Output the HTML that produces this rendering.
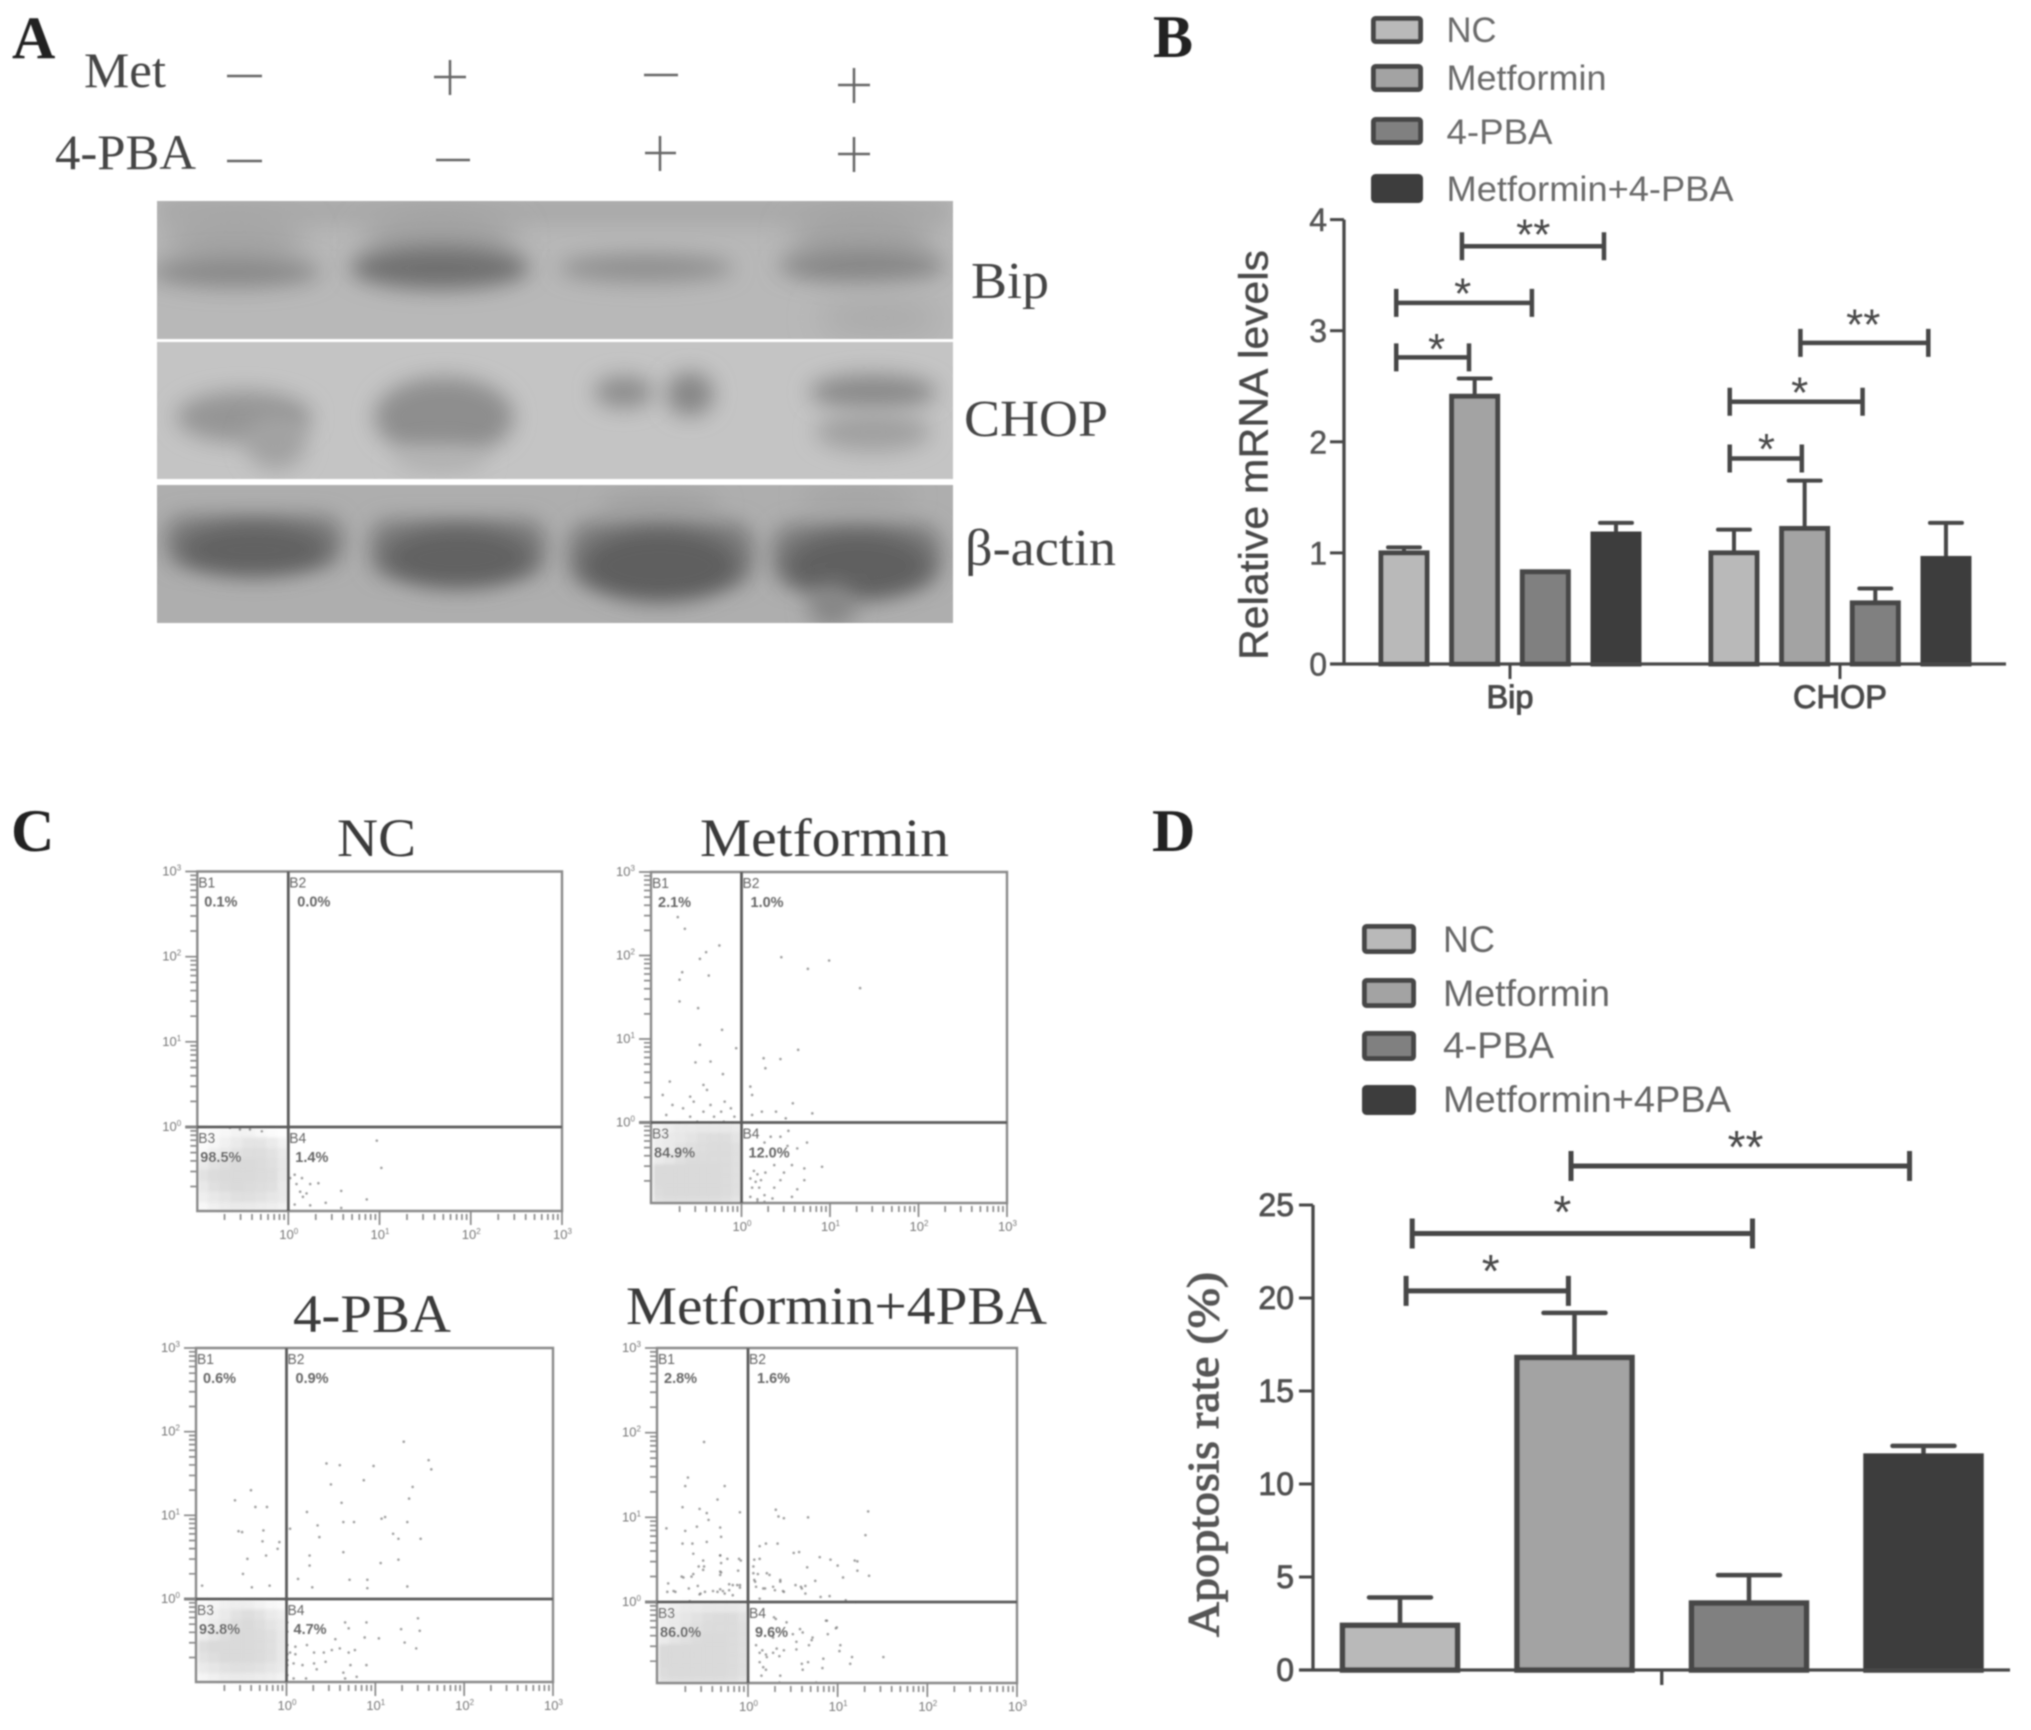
<!DOCTYPE html>
<html lang="en">
<head>
<meta charset="utf-8">
<title>Metformin and 4-PBA figure</title>
<style>
html,body{margin:0;padding:0;background:#fff;}
svg{display:block;}
text{font-family:"Liberation Sans",sans-serif;}
.serif{font-family:"Liberation Serif",serif;}
</style>
</head>
<body>
<svg id="fig" xmlns="http://www.w3.org/2000/svg" width="2031" height="1730" viewBox="0 0 2031 1730">
<defs>
  <filter id="soft" filterUnits="userSpaceOnUse" x="0" y="0" width="2031" height="1730"><feGaussianBlur stdDeviation="0.85"/></filter>
  <filter id="b8" filterUnits="userSpaceOnUse" x="100" y="150" width="900" height="520"><feGaussianBlur stdDeviation="11"/></filter>
  <filter id="b12" filterUnits="userSpaceOnUse" x="100" y="150" width="900" height="520"><feGaussianBlur stdDeviation="15"/></filter>
  <filter id="dense" filterUnits="userSpaceOnUse" x="0" y="800" width="1100" height="930"><feGaussianBlur stdDeviation="1.6"/></filter>
  <clipPath id="c1"><rect x="157" y="201" width="796" height="138"/></clipPath>
  <clipPath id="c2"><rect x="157" y="342" width="796" height="137"/></clipPath>
  <clipPath id="c3"><rect x="157" y="485" width="796" height="138"/></clipPath>
</defs>
<rect width="2031" height="1730" fill="#ffffff"/>
<g id="root" filter="url(#soft)">
  <g>
    <text class="serif" x="12" y="58" font-size="60" font-weight="bold" fill="#222">A</text>
    <text class="serif" x="84" y="87" font-size="50" fill="#444" textLength="82" lengthAdjust="spacingAndGlyphs">Met</text>
    <text class="serif" x="55" y="169" font-size="50" fill="#444" textLength="141" lengthAdjust="spacingAndGlyphs">4-PBA</text>
    <g stroke="#666" stroke-width="2.5" fill="none">
      <path d="M227 76H262"/>
      <path d="M434 77H466M450 60V95"/>
      <path d="M644 75H678"/>
      <path d="M838 85H870M854 68V103"/>
      <path d="M227 161H262"/>
      <path d="M436 160H470"/>
      <path d="M645 153H676M660 136V171"/>
      <path d="M838 154H870M854 137V172"/>
    </g>
    <g clip-path="url(#c1)">
      <rect x="157" y="201" width="796" height="138" fill="#b8b8b8"/>
      <rect x="157" y="195" width="796" height="30" fill="#a8a8a8" filter="url(#b8)"/>
      <ellipse cx="235" cy="240" rx="72" ry="30" fill="#a4a4a4" filter="url(#b12)"/>
      <ellipse cx="440" cy="240" rx="78" ry="30" fill="#a0a0a0" filter="url(#b12)"/>
      <ellipse cx="862" cy="240" rx="72" ry="34" fill="#a2a2a2" filter="url(#b12)"/>
      <ellipse cx="235" cy="272" rx="86" ry="15" fill="#888888" filter="url(#b8)"/>
      <ellipse cx="440" cy="268" rx="90" ry="21" fill="#707070" filter="url(#b8)"/>
      <ellipse cx="646" cy="268" rx="88" ry="14" fill="#8e8e8e" filter="url(#b8)"/>
      <ellipse cx="862" cy="266" rx="84" ry="16" fill="#868686" filter="url(#b8)"/>
      <ellipse cx="880" cy="318" rx="62" ry="22" fill="#acacac" filter="url(#b12)"/>
    </g>
    <g clip-path="url(#c2)">
      <rect x="157" y="342" width="796" height="137" fill="#c4c4c4"/>
      <ellipse cx="244" cy="417" rx="68" ry="26" fill="#959595" filter="url(#b8)"/>
      <ellipse cx="276" cy="442" rx="30" ry="28" fill="#a2a2a2" filter="url(#b8)"/>
      <ellipse cx="444" cy="417" rx="70" ry="40" fill="#8e8e8e" filter="url(#b8)"/>
      <ellipse cx="440" cy="460" rx="46" ry="14" fill="#b4b4b4" filter="url(#b8)"/>
      <ellipse cx="624" cy="392" rx="30" ry="16" fill="#8c8c8c" filter="url(#b8)"/>
      <ellipse cx="690" cy="394" rx="24" ry="22" fill="#868686" filter="url(#b8)"/>
      <ellipse cx="873" cy="392" rx="64" ry="18" fill="#8a8a8a" filter="url(#b8)"/>
      <ellipse cx="873" cy="432" rx="58" ry="20" fill="#a0a0a0" filter="url(#b8)"/>
    </g>
    <g clip-path="url(#c3)">
      <rect x="157" y="485" width="796" height="138" fill="#aeaeae"/>
      <ellipse cx="660" cy="505" rx="62" ry="15" fill="#a2a2a2" filter="url(#b8)"/>
      <ellipse cx="858" cy="498" rx="58" ry="12" fill="#a4a4a4" filter="url(#b8)"/>
      <rect x="165" y="516" width="178" height="50" rx="20" fill="#7c7c7c" filter="url(#b8)"/>
      <rect x="370" y="520" width="176" height="56" rx="20" fill="#7c7c7c" filter="url(#b8)"/>
      <rect x="568" y="522" width="186" height="64" rx="24" fill="#7a7a7a" filter="url(#b8)"/>
      <rect x="772" y="524" width="170" height="62" rx="24" fill="#7c7c7c" filter="url(#b8)"/>
      <ellipse cx="254" cy="550" rx="74" ry="26" fill="#626262" filter="url(#b8)"/>
      <ellipse cx="458" cy="558" rx="74" ry="30" fill="#626262" filter="url(#b8)"/>
      <ellipse cx="660" cy="566" rx="78" ry="36" fill="#5e5e5e" filter="url(#b8)"/>
      <ellipse cx="858" cy="566" rx="72" ry="34" fill="#606060" filter="url(#b8)"/>
      <ellipse cx="832" cy="606" rx="24" ry="22" fill="#868686" filter="url(#b8)"/>
    </g>
    <text class="serif" x="971" y="298" font-size="52" fill="#444" textLength="78" lengthAdjust="spacingAndGlyphs">Bip</text>
    <text class="serif" x="964" y="436" font-size="52" fill="#444" textLength="144" lengthAdjust="spacingAndGlyphs">CHOP</text>
    <text class="serif" x="965" y="565" font-size="52" fill="#444" textLength="151" lengthAdjust="spacingAndGlyphs">β-actin</text>
  </g>
  <text class="serif" x="1153" y="57" font-size="60" font-weight="bold" fill="#222">B</text>
  <text class="serif" x="11" y="851" font-size="60" font-weight="bold" fill="#222">C</text>
  <text class="serif" x="1152" y="851" font-size="60" font-weight="bold" fill="#222">D</text>
  <g id="chartB"></g>
  <g id="chartC"></g>
  <g id="chartD"></g>
</g>
</svg>
<script>
// ---------- Chart B data ----------
const bCategories = ['Bip', 'CHOP'];
const bSeriesNames = ['NC', 'Metformin', '4-PBA', 'Metformin+4-PBA'];
const bValues = [[1.0, 2.41, 0.83, 1.17], [1.0, 1.22, 0.55, 0.95]];
const bErrorTops = [[1.05, 2.57, 0.83, 1.27], [1.21, 1.65, 0.68, 1.27]];
const bTicks = [0, 1, 2, 3, 4];
// start, end, bracket height, label, label position, label height (axis units)
const bBrackets = [[0.82, 2.83, 3.76, '**', 1.83, 3.92], [-0.11, 1.81, 3.25, '*', 0.83, 3.39], [-0.11, 0.92, 2.76, '*', 0.46, 2.89], [5.61, 7.42, 2.89, '**', 6.5, 3.11], [4.61, 6.49, 2.36, '*', 5.6, 2.5], [4.61, 5.63, 1.85, '*', 5.13, 1.99]];
// ---------- Chart D data ----------
const dSeriesNames = ['NC', 'Metformin', '4-PBA', 'Metformin+4PBA'];
const dValues = [2.4, 16.8, 3.6, 11.5];
const dErrorTops = [3.9, 19.2, 5.1, 12.05];
const dTicks = [0, 5, 10, 15, 20, 25];
const dBrackets = [[0.98, 2.92, 27.1, '**', 1.98, 28.44], [0.07, 2.02, 23.47, '*', 0.93, 24.95], [0.035, 0.965, 20.38, '*', 0.52, 21.77]];
// ---------- Chart C data (log10 decades) ----------
const flowDecadeLabels = [0, 1, 2, 3];
const flowMinorMultipliers = [2, 3, 4, 5, 6, 7, 8, 9];
const flowTitles = ['NC', 'Metformin', '4-PBA', 'Metformin+4PBA'];
const flowPercents = [['0.1%', '0.0%', '98.5%', '1.4%'], ['2.1%', '1.0%', '84.9%', '12.0%'], ['0.6%', '0.9%', '93.8%', '4.7%'], ['2.8%', '1.6%', '86.0%', '9.6%']];
const densityNC = [[.05,.15,.2,.3,.3,.2,.1,.05],[.1,.2,.35,.55,.7,.7,.5,.3],[.15,.4,.55,.75,.85,.85,.75,.5],[.5,.75,.85,.95,.95,.9,.8,.6],[.75,.9,.95,.95,.95,.9,.85,.6],[.6,.8,.9,.95,.9,.85,.8,.55],[.4,.6,.7,.8,.8,.75,.65,.5],[.2,.35,.45,.55,.5,.45,.4,.3]];
const densityMet = [[.3,.4,.5,.55,.6,.6,.6,.55],[.4,.5,.6,.7,.8,.85,.85,.7],[.4,.55,.7,.8,.85,.9,.9,.8],[.5,.65,.8,.9,.9,.9,.9,.8],[.95,.95,.95,.95,.95,.95,.9,.8],[.95,.95,.95,.95,.95,.95,.9,.8],[.9,.95,.95,.95,.95,.95,.9,.8],[.8,.85,.85,.85,.85,.85,.8,.7]];
const densityPBA = [[.15,.25,.35,.4,.4,.3,.2,.15],[.25,.35,.55,.75,.85,.75,.55,.4],[.25,.45,.65,.85,.95,.85,.7,.5],[.45,.7,.85,.95,.95,.9,.8,.6],[.85,.95,.95,.95,.95,.9,.8,.6],[.75,.85,.95,.95,.95,.9,.8,.6],[.5,.65,.75,.8,.8,.75,.65,.5],[.25,.35,.45,.55,.5,.45,.4,.3]];
const densityCombo = [[.3,.4,.5,.55,.6,.6,.6,.55],[.4,.55,.65,.75,.85,.9,.9,.75],[.4,.55,.7,.8,.9,.9,.9,.8],[.55,.7,.8,.9,.95,.95,.9,.8],[.95,.95,.95,.95,.95,.95,.9,.8],[.95,.95,.95,.95,.95,.95,.9,.8],[.9,.95,.95,.95,.95,.95,.9,.8],[.8,.85,.85,.85,.85,.85,.8,.7]];
const dotsNC = [[.97,-.16],[1.02,-.48],[.58,-.75],[.86,-.85],[.41,-.89],[.58,-.95],[.24,-.92],[.07,-.56],[.15,-.6],[.02,-.6],[.33,-.66],[.13,-.76],[.2,-.78],[.07,-.91],[.16,-.82],[.09,-.67],[.24,-.67],[-.53,-.03],[-.64,-.01],[-.42,-.03],[-.29,-.05]];
const dotsMet = [[-.72,2.46],[-.64,2.32],[-.25,2.12],[-.4,2.04],[-.47,1.96],[.45,1.98],[.99,1.94],[.75,1.84],[-.67,1.8],[-.7,1.71],[-.37,1.76],[0,1.69],[1.34,1.61],[-.7,1.45],[-.49,1.37],[-.22,1.11],[-.47,.93],[-.06,.89],[.64,.87],[.25,.77],[.44,.76],[.27,.65],[-.52,.72],[-.35,.73],[-.21,.58],[-.81,.49],[-.43,.45],[-.39,.39],[.1,.43],[.12,.33],[.58,.23],[-.58,.31],[-.89,.33],[-.78,.21],[-.66,.17],[-.54,.25],[-.35,.21],[-.19,.25],[-.12,.17],[0,.21],[-.43,.13],[-.23,.13],[.23,.13],[.39,.13],[.8,.11],[-.08,.07],[-.31,.07],[-.58,.07],[-.85,.09],[.12,.09],[.5,.05],[-.7,0],[-.5,.01],[-.35,0],[-.2,.01],[-.1,0],[.2,0],[.14,-.58],[.18,-.62],[.1,-.67],[.22,-.69],[.16,-.71],[.2,-.78],[.12,-.78],[.27,-.6],[.37,-.51],[.48,-.6],[.57,-.51],[.71,-.55],[.91,-.53],[.71,-.69],[.44,-.69],[.37,-.78],[.26,-.87],[.35,-.91],[.57,-.89],[.63,-.8],[.18,-.95],[.52,-.28],[.63,-.31],[.33,-.17],[.44,-.17],[.53,-.1],[.26,-.24],[.74,-.24],[.18,-.92],[.1,-.89],[.26,-.95]];
const dotsPBA = [[1.32,1.88],[1.6,1.66],[1.63,1.55],[.45,1.62],[.6,1.6],[.98,1.59],[.87,1.42],[1.42,1.34],[.5,1.37],[1.38,1.2],[.62,1.15],[-.4,1.3],[-.58,1.18],[-.35,1.1],[-.22,1.1],[0,1.04],[.23,1.04],[1.11,.98],[1.36,.92],[1.07,.96],[.76,.92],[.64,.92],[.35,.88],[-.54,.81],[-.5,.8],[-.26,.82],[-.27,.69],[.04,.84],[.37,.74],[1.2,.78],[1.26,.72],[1.51,.72],[-.08,.68],[.64,.56],[.26,.52],[-.1,.6],[1.26,.47],[1.06,.43],[.26,.4],[-.44,.48],[-.23,.52],[-.49,.3],[-.95,.16],[-.39,.14],[-.19,.16],[.13,.24],[.29,.14],[.71,.23],[.91,.23],[.91,.13],[1.36,.15],[.66,-.28],[.7,-.35],[.9,-.28],[1.04,-.47],[1.29,-.36],[1.48,-.23],[1.5,-.38],[1.33,-.52],[1.46,-.59],[.88,-.46],[.55,-.48],[.77,-.61],[.7,-.64],[.6,-.59],[.51,-.61],[.42,-.64],[.31,-.64],[.23,-.55],[.1,-.57],[.04,-.64],[.1,-.66],[.01,-.73],[.08,-.77],[.18,-.79],[.31,-.77],[.44,-.75],[.72,-.79],[.9,-.79],[.64,-.88],[.79,-.93],[.66,-.95],[.34,-.84],[.01,-.91],[.01,-.55],[.01,-.39],[.01,-.28],[.22,-.95],[.08,-.95],[.01,-.66],[.01,-.79]];
const dotsCombo = [[-.49,1.89],[-.67,1.47],[-.7,1.37],[-.26,1.37],[-.34,1.21],[-.73,1.12],[-.54,1.1],[-.09,1.06],[-.46,1.05],[-.44,.97],[-.91,.87],[-.7,.84],[-.57,.89],[-.31,.88],[-.3,.77],[-.46,.71],[-.61,.57],[-.31,.55],[-.3,.46],[-.08,.49],[-.5,.38],[-.3,.35],[-.11,.37],[-.74,.3],[-.63,.3],[-.56,.19],[-.31,.15],[-.21,.21],[-.26,.1],[-.48,.12],[-.09,.17],[-.17,.08],[.31,1.09],[.34,1.01],[.4,.99],[.67,1],[1.34,1.07],[1.31,.79],[.13,.66],[.33,.69],[.51,.58],[.57,.59],[.07,.5],[.92,.5],[.66,.41],[1.22,.48],[1.22,.37],[.24,.32],[.36,.26],[.53,.2],[.64,.19],[.75,.25],[.64,.1],[.81,.06],[1.2,0],[.13,-.6],[.2,-.62],[.28,-.6],[.35,-.64],[.13,-.71],[.2,-.8],[.15,-.87],[.35,-.95],[.54,-.56],[.68,-.51],[.5,-.38],[.61,-.36],[.72,-.42],[.87,-.22],[.98,-.31],[.89,-.38],[1.02,-.58],[1.14,-.73],[1.51,-.65],[.61,-.8],[.83,-.78],[.76,-.95],[.31,-.2],[.43,-.24],[.67,-.71],[.09,-.51],[.28,-.42],[-.17,.2],[-.28,.13],[-.39,.13],[-.54,.09],[-.83,.13],[-.89,.22],[-.72,.29],[-.61,.33],[-.31,.36],[-.5,.49],[-.09,.2],[.09,.18],[.19,.16],[.28,.18],[.39,.13],[.59,.18],[.11,.33],[.07,.26],[.06,.42],[.13,.51],[.2,.69],[1.06,.29],[1.35,.31],[1,.43],[1.19,.49],[.8,.53],[.91,.07],[1.09,.02],[-.41,0],[-.24,0],[-.09,0],[.13,.04],[-.65,.01],[-.9,.12],[-.81,.12],[-.66,.16],[-.53,.1],[-.34,.12],[-.21,.14],[-.12,.2],[-.31,.32],[-.49,.42],[-.55,.42],[-.73,.69],[-.62,.69],[-.31,.55],[-.1,.51],[-.23,.51],[.08,.24],[.17,.16],[.3,.14],[.4,.12],[.6,.16],[.36,.24],[.06,.34],[.21,.34],[.29,-.18],[.58,-.32],[.71,-.45],[.54,-.47],[.88,-.22],[.99,-.3],[.16,-.57],[.21,-.65],[.32,-.55],[.4,-.57],[.17,-.77],[.36,-.87],[.6,-.73],[.84,-.67],[1.16,-.65],[1.03,-.51]];
const flowDensity = [densityNC, densityMet, densityPBA, densityCombo];
const flowDots = [dotsNC, dotsMet, dotsPBA, dotsCombo];

// ---------- helpers ----------
const NS = 'http://www.w3.org/2000/svg';
function mk(tag, props, parent) {
  const n = document.createElementNS(NS, tag);
  for (const k in props) n.setAttribute(k, props[k]);
  parent.appendChild(n);
  return n;
}
const seriesFills = ['#b9b9b9', '#a3a3a3', '#808080', '#3e3e3e'];
const lineColor = '#474747';

function drawLegend(g, names, boxes, textX, baselines, size, fillText, lengths) {
  names.forEach(function (name, i) {
    const b = boxes[i];
    const sw = mk('rect', {x: b[0] + 2.5, y: b[1] + 2.5, width: b[2] - 5, height: b[3] - 5, rx: 2, fill: seriesFills[i], stroke: i === 3 ? seriesFills[3] : lineColor, 'stroke-width': 5}, g);
    
    
    const t = mk('text', {x: textX, y: baselines[i], 'font-size': size, fill: fillText, textLength: lengths[i], lengthAdjust: 'spacingAndGlyphs'}, g);
    t.textContent = name;
    
    
  });
}
function drawBracket(g, x1, x2, y, label, tickHalf, sw, starSize, starX, starBase) {
  const p = mk('path', {d: 'M' + x1 + ' ' + y + 'H' + x2 + 'M' + x1 + ' ' + (y - tickHalf) + 'V' + (y + tickHalf) + 'M' + x2 + ' ' + (y - tickHalf) + 'V' + (y + tickHalf), stroke: lineColor, 'stroke-width': sw, fill: 'none'}, g);
  
  
  const t = mk('text', {x: starX, y: starBase, 'font-size': starSize, fill: '#4a4a4a', 'text-anchor': 'middle'}, g);
  t.textContent = label;
  
  
}
function drawBar(g, cx, halfW, base, top, errTop, fill, capHalf, sw) {
  if (errTop > 0 && errTop < top) {
    const e = mk('path', {d: 'M' + cx + ' ' + top + 'V' + errTop + 'M' + (cx - capHalf) + ' ' + errTop + 'H' + (cx + capHalf), stroke: lineColor, 'stroke-width': sw, fill: 'none', 'stroke-linecap': 'round'}, g);
    
    
  }
  const r = mk('rect', {x: cx - halfW, y: top, width: halfW * 2, height: Math.max(0, base - top), fill: fill, stroke: fill === seriesFills[3] ? fill : lineColor, 'stroke-width': sw + 1}, g);
  
  
}

// ---------- Chart B ----------
(function () {
  const g = document.getElementById('chartB');
  const yB = function (v) { return 664 - v * 111.1; };
  const xB = function (p) { return 1404 + p * 70.66; };
  const groupStep = 4.67;
  drawLegend(g, bSeriesNames, [[1371, 16, 52, 28], [1371, 64, 52, 28], [1371, 117, 52, 28], [1371, 174, 52, 29]], 1446.5, [42, 90, 144, 201], 35.5, '#6b6b6b', [50, 160, 106, 287]);
  const title = mk('text', {transform: 'translate(1267.5 660) rotate(-90)', 'font-size': 41, fill: '#4a4a4a', stroke: '#4a4a4a', 'stroke-width': 0.4, textLength: 410, lengthAdjust: 'spacingAndGlyphs'}, g);
  title.textContent = 'Relative mRNA levels';
  
  
  bCategories.forEach(function (cat, gi) {
    bValues[gi].forEach(function (v, si) {
      drawBar(g, xB(si + gi * groupStep), 23, yB(0), yB(v), yB(bErrorTops[gi][si]), seriesFills[si], 16, 4);
    });
    const cx = xB(1.5 + gi * groupStep);
    const tk = mk('path', {d: 'M' + cx + ' ' + yB(0) + 'V' + (yB(0) + 15), stroke: lineColor, 'stroke-width': 3}, g);
    
    
    const lab = mk('text', {x: cx, y: 708, 'font-size': 32.5, fill: '#4a4a4a', stroke: '#4a4a4a', 'stroke-width': 1, 'text-anchor': 'middle'}, g);
    lab.textContent = cat;
    
    
  });
  const ax = mk('path', {d: 'M1344 ' + yB(4) + 'V' + yB(0) + 'M1330 ' + yB(0) + 'H2006', stroke: lineColor, 'stroke-width': 3.3, fill: 'none'}, g);
  
  
  bTicks.forEach(function (t) {
    const tk = mk('path', {d: 'M1330 ' + yB(t) + 'H1344', stroke: lineColor, 'stroke-width': 3}, g);
    
    
    const lab = mk('text', {x: 1327, y: yB(t) + 11.5, 'font-size': 32, fill: '#555', stroke: '#555', 'stroke-width': 0.5, 'text-anchor': 'end'}, g);
    lab.textContent = t;
    
    
  });
  bBrackets.forEach(function (b) {
    drawBracket(g, xB(b[0]), xB(b[1]), yB(b[2]), b[3], 14, 4.5, 44, xB(b[4]), yB(b[5]) + 21);
  });
})();

// ---------- Chart D ----------
(function () {
  const g = document.getElementById('chartD');
  const yD = function (v) { return 1670 - v * 18.6; };
  const xD = function (p) { return 1400 + p * 174.5; };
  drawLegend(g, dSeriesNames, [[1362, 924, 54, 30], [1362, 978, 54, 30], [1362, 1031, 54, 30], [1362, 1085, 54, 30]], 1443, [952, 1006, 1058, 1112], 37, '#666', [52, 167, 111, 288]);
  const title = mk('text', {'class': 'serif', transform: 'translate(1218 1637) rotate(-90)', 'font-size': 44, fill: '#555', stroke: '#555', 'stroke-width': 1.1, textLength: 365, lengthAdjust: 'spacingAndGlyphs'}, g);
  title.textContent = 'Apoptosis rate (%)';
  
  
  dValues.forEach(function (v, i) {
    drawBar(g, xD(i), 57.5, yD(0), yD(v), yD(dErrorTops[i]), seriesFills[i], 31, 4.5);
  });
  const ax = mk('path', {d: 'M1313 ' + yD(25) + 'V' + yD(0) + 'M1299 ' + yD(0) + 'H2010M' + xD(1.5) + ' ' + yD(0) + 'V1685', stroke: lineColor, 'stroke-width': 3.3, fill: 'none'}, g);
  
  
  dTicks.forEach(function (t) {
    const tk = mk('path', {d: 'M1299 ' + yD(t) + 'H1313', stroke: lineColor, 'stroke-width': 3}, g);
    
    
    const lab = mk('text', {x: 1294, y: yD(t) + 11, 'font-size': 32, fill: '#505050', stroke: '#505050', 'stroke-width': 0.8, 'text-anchor': 'end'}, g);
    lab.textContent = t;
    
    
  });
  dBrackets.forEach(function (b) {
    drawBracket(g, xD(b[0]), xD(b[1]), yD(b[2]), b[3], 15, 5, 46, xD(b[4]), yD(b[5]) + 22);
  });
})();

// ---------- Chart C ----------
(function () {
  const g = document.getElementById('chartC');
  const plots = [
    {l: 197.3, v: 288.3, r: 562, t: 871.5, h: 1127, b: 1211, titleX: 337, titleW: 79, titleY: 856},
    {l: 651, v: 741.5, r: 1007, t: 872, h: 1122.5, b: 1203, titleX: 700, titleW: 249, titleY: 856},
    {l: 196, v: 286.5, r: 553, t: 1348, h: 1599, b: 1682, titleX: 293, titleW: 158, titleY: 1332},
    {l: 657, v: 748, r: 1017, t: 1348, h: 1602, b: 1683, titleX: 626, titleW: 421, titleY: 1324}
  ];
  plots.forEach(function (p, i) {
    const dx = (p.r - p.v) / 3;
    const dy = (p.h - p.t) / 3;
    const x = function (d) { return p.v + d * dx; };
    const y = function (d) { return p.h - d * dy; };
    const gp = mk('g', {}, g);
    
    
    const title = mk('text', {'class': 'serif', x: p.titleX, y: p.titleY, 'font-size': 54, fill: '#3a3a3a', textLength: p.titleW, lengthAdjust: 'spacingAndGlyphs'}, gp);
    title.textContent = flowTitles[i];
    
    
    const dg = mk('g', {filter: 'url(#dense)'}, gp);
    
    
    flowDensity[i].forEach(function (row, ri) {
      row.forEach(function (val, ci) {
        const x1 = Math.max(p.l, x(-1 + ci / 8));
        const x2 = x(-1 + (ci + 1) / 8);
        const y1 = y(-ri / 8);
        const y2 = Math.min(p.b, y(-(ri + 1) / 8));
        const c = mk('rect', {x: x1, y: y1, width: x2 - x1 + 0.5, height: Math.max(0, y2 - y1 + 0.5), fill: '#d8d8d8', 'fill-opacity': val}, dg);
        
        
      });
    });
    flowDots[i].forEach(function (d) {
      const c = mk('circle', {cx: x(d[0]), cy: y(d[1]), r: 1.3, fill: '#777', 'fill-opacity': 0.7}, gp);
      
      
    });
    const frame = mk('path', {d: 'M' + p.l + ' ' + p.t + 'H' + p.r + 'V' + p.b + 'H' + p.l + 'Z', stroke: '#8a8a8a', 'stroke-width': 2.4, fill: 'none'}, gp);
    
    
    const gate = mk('path', {d: 'M' + x(0) + ' ' + p.t + 'V' + p.b + 'M' + (p.l - 12) + ' ' + y(0) + 'H' + p.r, stroke: '#5c5c5c', 'stroke-width': 2.8, fill: 'none'}, gp);
    
    
    // ticks
    let td = '';
    for (let dec = -1; dec < 3; dec++) {
      flowMinorMultipliers.forEach(function (m) {
        const v = dec + Math.log10(m);
        if (y(v) <= p.b) td += 'M' + (p.l - 7) + ' ' + y(v) + 'H' + (p.l - 1);
        if (x(v) >= p.l) td += 'M' + x(v) + ' ' + (p.b + 3) + 'V' + (p.b + 9);
      });
    }
    const minor = mk('path', {d: td, stroke: '#8c8c8c', 'stroke-width': 1.7, fill: 'none'}, gp);
    
    
    flowDecadeLabels.forEach(function (dec) {
      const tk = mk('path', {d: 'M' + (p.l - 12) + ' ' + y(dec) + 'H' + p.l + 'M' + x(dec) + ' ' + p.b + 'V' + (p.b + 14), stroke: '#888', 'stroke-width': 1.7, fill: 'none'}, gp);
      
      
      const yl = mk('text', {x: p.l - 35, y: y(dec) + 4, 'font-size': 13, fill: '#777'}, gp);
      
      
      yl.appendChild(document.createTextNode('10'));
      const ys = mk('tspan', {dy: -5, 'font-size': 8}, yl);
      ys.textContent = dec;
      const xl = mk('text', {x: x(dec) - 9, y: p.b + 28, 'font-size': 13, fill: '#777'}, gp);
      
      
      xl.appendChild(document.createTextNode('10'));
      const xs = mk('tspan', {dy: -5, 'font-size': 8}, xl);
      xs.textContent = dec;
    });
    // quadrant labels
    const quadNames = ['B1', 'B2', 'B3', 'B4'];
    const qx = [p.l, x(0), p.l, x(0)];
    const qy = [p.t, p.t, y(0), y(0)];
    const pctDx = [7, 9, 3, 7];
    quadNames.forEach(function (q, k) {
      const qn = mk('text', {x: qx[k] + 1, y: qy[k] + 16, 'font-size': 15, fill: '#666', textLength: 17, lengthAdjust: 'spacingAndGlyphs'}, gp);
      qn.textContent = q;
      
      
      const pc = mk('text', {x: qx[k] + pctDx[k], y: qy[k] + 35, 'font-size': 14.5, 'font-weight': 'bold', fill: '#666'}, gp);
      pc.textContent = flowPercents[i][k];
      
      
    });
  });
})();
</script>
</body>
</html>
